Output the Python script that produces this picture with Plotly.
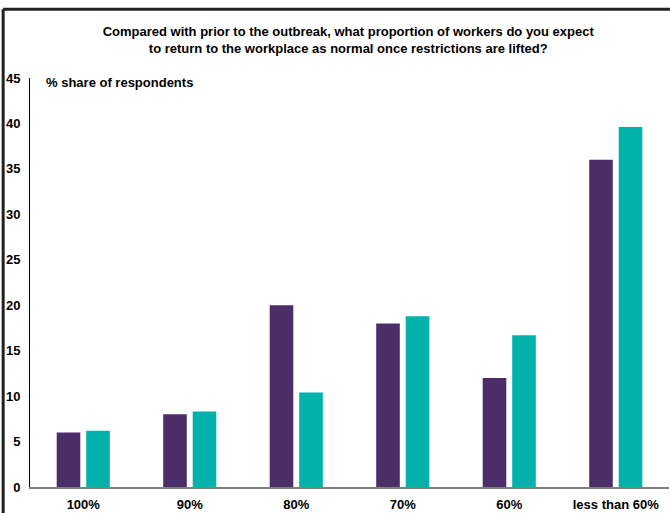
import plotly.graph_objects as go

categories = ["100%", "90%", "80%", "70%", "60%", "less than 60%"]
series_a = [6.0, 8.0, 20.0, 18.0, 12.0, 36.0]
series_b = [6.2, 8.3, 10.4, 18.8, 16.7, 39.6]
y_ticks = [0, 5, 10, 15, 20, 25, 30, 35, 40, 45]

PURPLE = "#4B2E67"
TEAL = "#00B2A9"
FONT = "Liberation Sans, Arial, sans-serif"

fig = go.Figure()
fig.add_trace(go.Bar(x=categories, y=series_a, marker=dict(color=PURPLE, line=dict(width=0)), showlegend=False))
fig.add_trace(go.Bar(x=categories, y=series_b, marker=dict(color=TEAL, line=dict(width=0)), showlegend=False))

fig.update_layout(
    width=670, height=513,
    margin=dict(l=30, r=1, t=78, b=24),
    paper_bgcolor="white", plot_bgcolor="white",
    barmode="group", bargap=0.446, bargroupgap=0.2,
    font=dict(family=FONT, size=13, color="#000000"),
    title=dict(
        text="<b>Compared with prior to the outbreak, what proportion of workers do you expect<br>to return to the workplace as normal once restrictions are lifted?</b>",
        x=0.498, xref="paper", xanchor="center", y=0.93, yanchor="middle",
        font=dict(family=FONT, size=13, color="#000000"),
    ),
    xaxis=dict(
        showgrid=False, zeroline=False, showline=True, linecolor="#808080", linewidth=2,
        ticks="outside", ticklen=4, tickcolor="rgba(0,0,0,0)",
        tickfont=dict(family=FONT, size=13, color="#000000"),
        tickprefix="<b>", ticksuffix="</b>",
    ),
    yaxis=dict(
        range=[0, 45], tickvals=y_ticks, ticktext=[f"<b>{v}</b>" for v in y_ticks],
        showgrid=False, zeroline=False, showline=True, linecolor="#000000", linewidth=1,
        ticks="outside", ticklen=6, tickcolor="rgba(0,0,0,0)",
        tickfont=dict(family=FONT, size=13, color="#000000"),
    ),
    annotations=[dict(
        text="<b>% share of respondents</b>", xref="paper", yref="paper",
        x=0.022, y=0.99, xanchor="left", yanchor="middle", showarrow=False,
        font=dict(family=FONT, size=13, color="#000000"),
    )],
    shapes=[
        dict(type="line", xref="paper", yref="paper", x0=-0.042, x1=1.01, y0=1.168, y1=1.168,
             line=dict(color="#222222", width=3)),
        dict(type="line", xref="paper", yref="paper", x0=-0.042, x1=-0.042, y0=1.168, y1=-0.07,
             line=dict(color="#222222", width=3)),
    ],
)

fig.write_html("out.html", config={"displayModeBar": False},
               post_script="document.body.style.margin='0px';document.body.style.overflow='hidden';")
